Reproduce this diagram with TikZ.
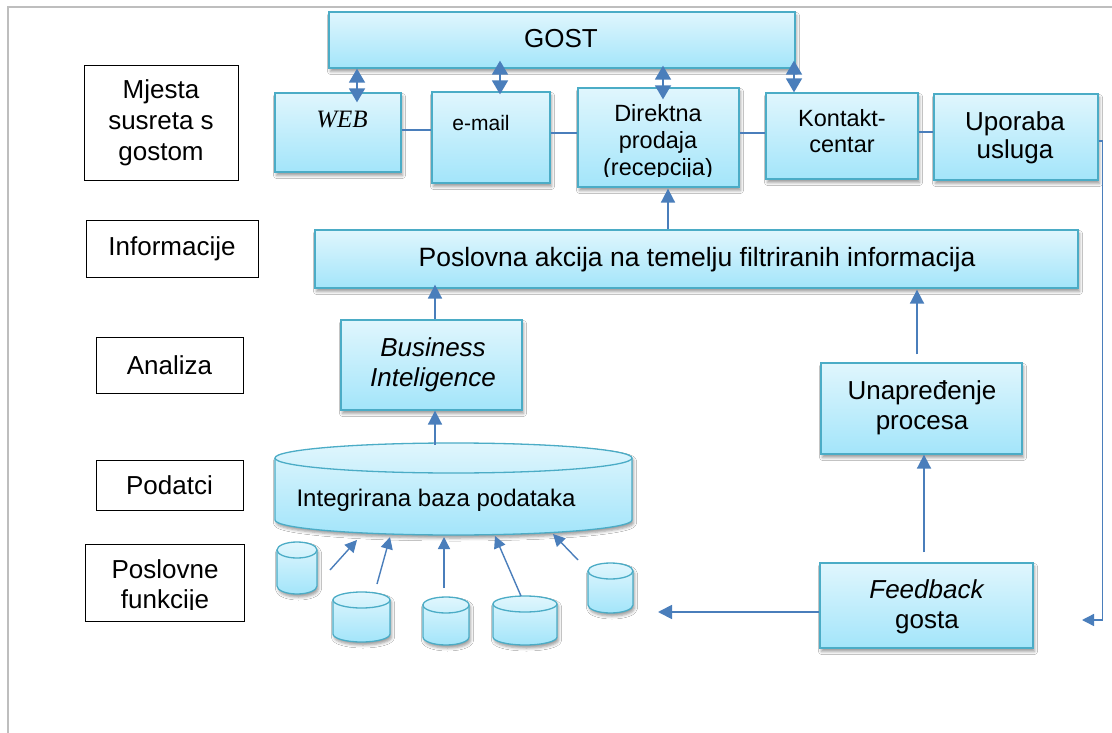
\documentclass[tikz,border=0pt]{standalone}
\usepackage{fontspec}
\setmainfont{Liberation Sans}
\newfontfamily\timesf{Liberation Serif}
\usetikzlibrary{arrows.meta,shadows.blur,calc}
\definecolor{bfillA}{HTML}{E0F6FD}
\definecolor{bfillB}{HTML}{A3E5FA}
\definecolor{bdraw}{HTML}{4BACC6}
\definecolor{arr}{HTML}{4A7EBB}
\definecolor{framec}{HTML}{BEBEBE}
\newcommand\fsz[2]{\fontsize{#1pt}{#2pt}\selectfont}
\newcommand\dbcyl[6]{%
  \pgfmathsetmacro\cylcx{(#2+#4)/2}%
  \pgfmathsetmacro\cylrx{(#4-#2)/2}%
  \pgfmathsetmacro\cylyt{#3+#6}%
  \pgfmathsetmacro\cylyb{#5-#6}%
  \pgfmathsetmacro\cylmid{(#3+#5)/2}%
  \pgfmathsetmacro\cylw{#4-#2}%
  \pgfmathsetmacro\cylh{#5-#3}%
  \path[cylfill,cylline] (#2,\cylyt) -- (#2,\cylyb)
     arc[start angle=180,end angle=360,x radius=\cylrx pt,y radius=#6pt]
     -- (#4,\cylyt)
     arc[start angle=0,end angle=180,x radius=\cylrx pt,y radius=#6pt] -- cycle;
  \draw[cylline] (#2,\cylyt) arc[start angle=180,end angle=360,x radius=\cylrx pt,y radius=#6pt];
  \node[inner sep=0pt,minimum width=\cylw pt,minimum height=\cylh pt] (#1) at (\cylcx,\cylmid) {};
}
\tikzset{
  box/.style={draw=bdraw, line width=1.3pt, top color=bfillA, bottom color=bfillB,
    blur shadow={shadow xshift=1.5pt, shadow yshift=-3.5pt, shadow blur radius=3pt, shadow opacity=40},
    inner sep=0pt},
  lab/.style={draw=black, line width=0.8pt, fill=white, inner sep=0pt, align=center, font=\fsz{26}{31}},
  txt/.style={inner sep=0pt, align=center},
  con/.style={draw=arr, line width=1.8pt, -{Triangle[length=14pt,width=14pt]}},
  conthin/.style={draw=arr, line width=1.4pt, -{Triangle[length=12pt,width=12pt]}},
  dbl/.style={draw=arr, line width=1.8pt, {Triangle[length=14pt,width=16pt]}-{Triangle[length=14pt,width=16pt]}},
  ln/.style={draw=arr, line width=1.5pt},
  cylfill/.style={top color=bfillA, bottom color=bfillB,
    blur shadow={shadow xshift=1.5pt, shadow yshift=-3pt, shadow blur radius=3pt, shadow opacity=40}},
  cylline/.style={draw=bdraw, line width=1.3pt},
  framel/.style={draw=framec, line width=1.5pt}
}
\begin{document}
\begin{tikzpicture}[x=1pt,y=-1pt]
\useasboundingbox (0,0) rectangle (1112,733);
\fill[white] (0,0) rectangle (1112,733);
\draw[framel] (8,733) -- (8,7) -- (1112,7);

% left labels
\node[lab, minimum width=154pt, minimum height=115pt] (lmj) at (161,122.5) {Mjesta\\susreta s\\gostom};
\node[lab, minimum width=172pt, minimum height=57pt] (linf) at (172,248.5) {Informacije};
\node[lab, minimum width=147pt, minimum height=56pt] (lana) at (169.5,365) {Analiza};
\node[lab, minimum width=147pt, minimum height=50pt] (lpod) at (169.5,485) {Podatci};
\node[lab, minimum width=159pt, minimum height=77pt] (lpos) at (164.5,582.5) {};
\begin{scope}
  \clip (lpos.north west) rectangle ([yshift=11.5pt]lpos.south east);
  \node[txt, font=\fsz{26}{30}] (lpost) at (165,586.5) {Poslovne\\funkcije};
\end{scope}

% boxes
\node[box, minimum width=466pt, minimum height=56pt] (gost) at (562,40) {};
\node[txt, font=\fsz{26}{31}] (gostt) at (561,38.7) {GOST};
\node[box, minimum width=126pt, minimum height=79pt] (web) at (338,132.5) {};
\node[txt, font=\fsz{25}{30}\timesf\itshape] (webt) at (342,119.7) {WEB};
\node[box, minimum width=118pt, minimum height=91pt] (email) at (491,137.5) {};
\node[txt, font=\fsz{21}{25}] (emailt) at (481,122.5) {e-mail};
\node[box, minimum width=161pt, minimum height=99pt] (dir) at (658.5,137.5) {};
\begin{scope}
  \clip (dir.north west) rectangle ([yshift=11pt]dir.south east);
  \node[txt, font=\fsz{23.5}{27}] (dirt) at (658,142.5) {Direktna\\prodaja\\(recepcija)};
\end{scope}
\node[box, minimum width=152pt, minimum height=86pt] (kont) at (842,136) {};
\node[txt, font=\fsz{23.5}{26}] (kontt) at (842,131.6) {Kontakt-\\centar};
\node[box, minimum width=164pt, minimum height=86pt] (upor) at (1016,137) {};
\node[txt, font=\fsz{26}{28}] (uport) at (1015,137.5) {Uporaba\\usluga};

\node[box, minimum width=763pt, minimum height=58pt] (posl) at (696.5,259) {};
\node[txt, font=\fsz{26.5}{31}] (poslt) at (697,259.5) {Poslovna akcija na temelju filtriranih informacija};

\node[box, minimum width=181pt, minimum height=90pt] (bi) at (431.5,365) {};
\node[txt, font=\fsz{26}{30}\itshape] (bit) at (433,364.5) {Business\\Inteligence};

\node[box, minimum width=201pt, minimum height=91pt] (unap) at (921.5,408.5) {};
\node[txt, font=\fsz{26}{30}] (unapt) at (922,407.5) {Unapređenje\\procesa};

\node[box, minimum width=213pt, minimum height=85pt] (fb) at (926.5,605.5) {};
\node[txt, font=\fsz{26}{30}] (fbt) at (927,606.5) {\textit{Feedback}\\gosta};

% cylinders
\dbcyl{db}{275}{443}{632}{535}{15}
\node[txt, font=\fsz{24}{28}] (dbt) at (436,500) {Integrirana baza podataka};
\dbcyl{cA}{277}{542}{317}{594}{8}
\dbcyl{cB}{333}{592}{390}{642}{8}
\dbcyl{cC}{423}{597}{469}{645}{8}
\dbcyl{cD}{493}{596}{557}{645}{8}
\dbcyl{cE}{588}{563}{633}{613}{8}

% connectors: top row
\draw[dbl] ([xshift=19pt]web.north |- gost.south) -- ([xshift=19pt,yshift=-10pt]web.north);
\draw[dbl] ([xshift=9pt,yshift=8pt]email.north |- gost.south) -- ([xshift=9pt,yshift=-3pt]email.north);
\draw[dbl] ([xshift=4.5pt,yshift=3pt]dir.north |- gost.south) -- ([xshift=4.5pt,yshift=-12pt]dir.north);
\draw[dbl] ([xshift=-48pt,yshift=8pt]kont.north |- gost.south) -- ([xshift=-48pt]kont.north);

\draw[ln] ([yshift=2.5pt]web.east) -- ([yshift=2.5pt]web.east -| email.west);
\draw[ln] ([yshift=4.5pt]email.east) -- ([yshift=4.5pt]email.east -| dir.west);
\draw[ln] ([yshift=4.5pt]dir.east) -- ([yshift=4.5pt]dir.east -| kont.west);
\draw[ln] ([yshift=4pt]kont.east) -- ([yshift=4pt]kont.east -| upor.west);

\coordinate (ret) at (1082,620);
\draw[conthin] ([yshift=-4pt]upor.east) -- ++(4,0) |- (ret);

% vertical flow
\draw[con] ([xshift=-28.5pt]posl.north) -- ([xshift=-28.5pt,yshift=-1pt]posl.north |- dir.south);
\draw[con] ([xshift=3.5pt]bi.north) -- ([xshift=3.5pt,yshift=4pt]bi.north |- posl.south);
\draw[con] ([xshift=-4.5pt,yshift=8pt]unap.north) -- ([xshift=-4.5pt,yshift=-1pt]unap.north |- posl.south);
\draw[con] ([xshift=-2.5pt,yshift=10pt]fb.north) -- ([xshift=-2.5pt]fb.north |- unap.south);
\coordinate (fbl) at (658,612);
\draw[con] ([yshift=-6.5pt]fb.west) -- (fbl);
\draw[con] ([xshift=-18.5pt,yshift=-2pt]db.north) -- ([xshift=-18.5pt]db.north |- bi.south);

% small database arrows
\coordinate (tA) at (330,570); \coordinate (hA) at (357,540);
\coordinate (tB) at (377,584); \coordinate (hB) at (390,537);
\coordinate (tC) at (444,588); \coordinate (hC) at (444,537);
\coordinate (tD) at (521,596); \coordinate (hD) at (495,536);
\coordinate (tE) at (578,560); \coordinate (hE) at (553,534);
\draw[conthin] (tA) -- (hA);
\draw[conthin] (tB) -- (hB);
\draw[conthin] (tC) -- (hC);
\draw[conthin] (tD) -- (hD);
\draw[conthin] (tE) -- (hE);
\end{tikzpicture}
\end{document}
